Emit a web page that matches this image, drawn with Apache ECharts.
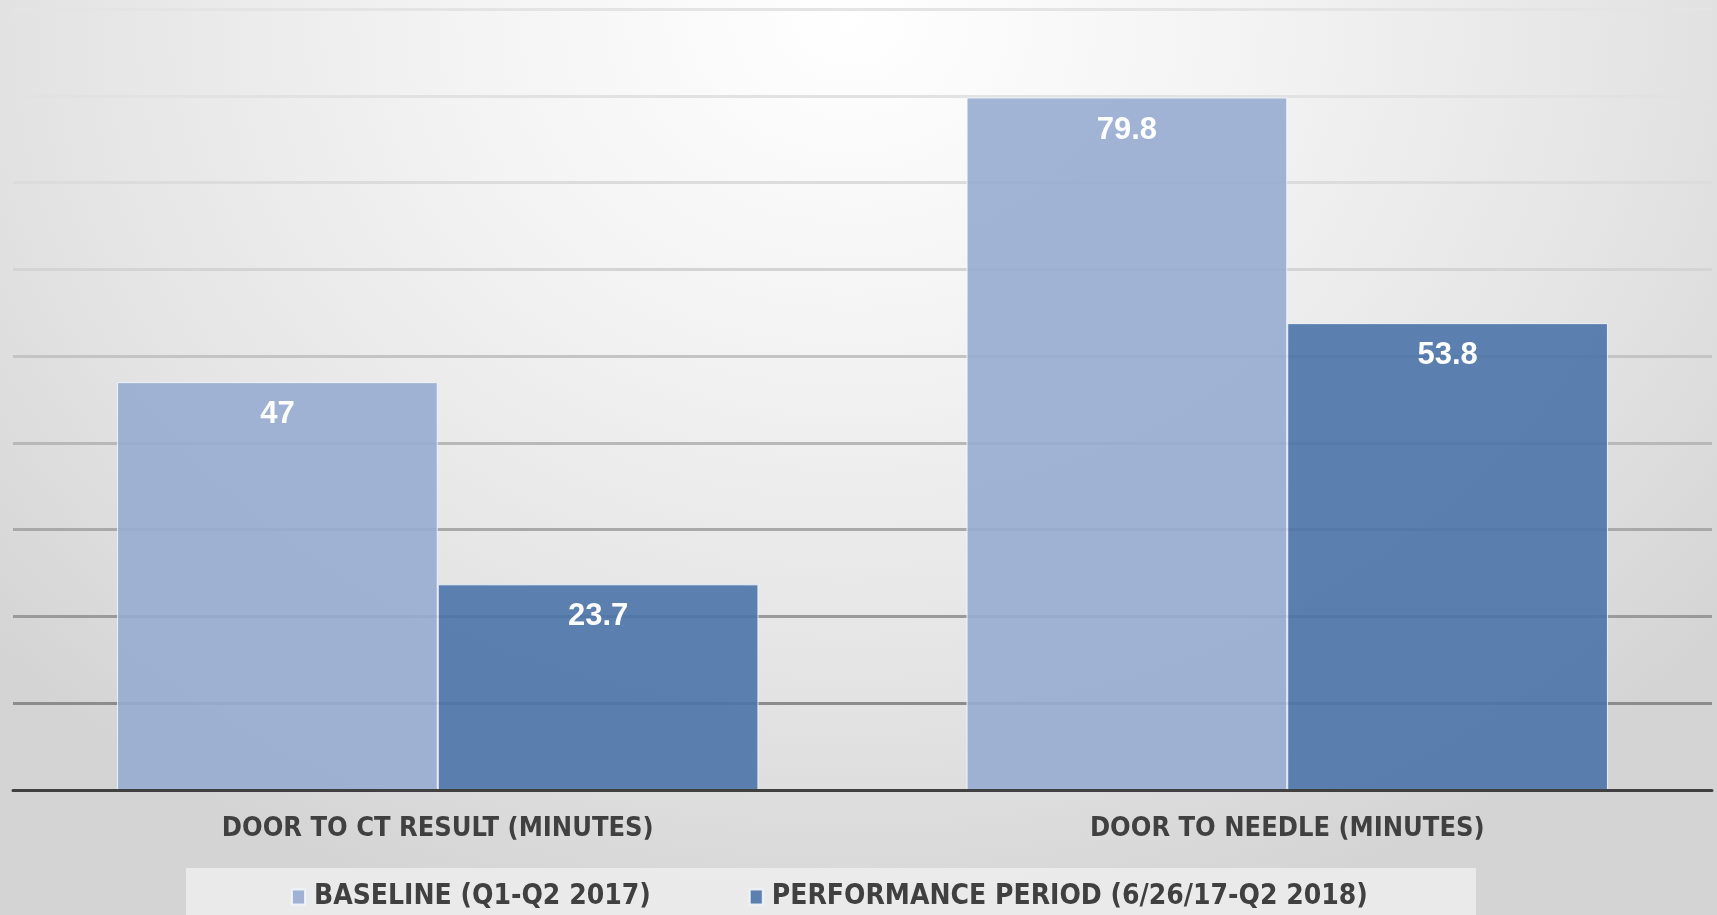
<!DOCTYPE html>
<html>
<head>
<meta charset="utf-8">
<script src="https://cdn.jsdelivr.net/npm/echarts@6/dist/echarts.min.js"></script>
<style>
html,body{margin:0;padding:0;}
#chart{width:1717px;height:915px;background:radial-gradient(ellipse 1150px 950px at 850px 20px,#ffffff 0%,#f3f3f3 35%,#e4e4e4 70%,#d4d4d4 100%);}
</style>
</head>
<body>
<div id="chart"></div>
<script>
const categories = ['DOOR TO CT RESULT (MINUTES)', 'DOOR TO NEEDLE (MINUTES)'];
const seriesNames = ['BASELINE (Q1-Q2 2017)', 'PERFORMANCE PERIOD (6/26/17-Q2 2018)'];
const baseline = [47, 79.8];
const performance = [23.7, 53.8];
const axisMin = 0, axisMax = 90, axisInterval = 10;

const chart = echarts.init(document.getElementById('chart'), null, {renderer: 'canvas'});
const catFont = '"Liberation Sans Narrow","DejaVu Sans Condensed","Liberation Sans",sans-serif';
const labelStyle = {show: true, position: 'insideTop', distance: 17, color: '#ffffff', fontSize: 31, fontWeight: 'bold', fontFamily: '"Liberation Sans",Arial,sans-serif'};
const option = {
  backgroundColor: 'transparent',
  animation: false,
  graphic: [{
    type: 'rect', left: 186, top: 868, z: -1,
    shape: {width: 1290, height: 60},
    style: {fill: 'rgba(236,236,236,0.9)'}
  }],
  legend: {
    left: 286, top: 878,
    itemWidth: 13, itemHeight: 15, itemGap: 98,
    icon: 'rect',
    textStyle: {fontFamily: catFont, fontSize: 28, fontWeight: 'bold', color: '#404040', padding: [0,0,0,4]},
    data: seriesNames
  },
  grid: {left: 13, right: 5, top: 9, bottom: 125, containLabel: false},
  xAxis: {
    type: 'category', data: categories, z: 10,
    axisLine: {lineStyle: {color: '#404040', width: 3}},
    axisTick: {show: false},
    axisLabel: {fontFamily: catFont, fontSize: 27, fontWeight: 'bold', color: '#404040', margin: 25}
  },
  yAxis: {
    type: 'value', min: axisMin, max: axisMax, interval: axisInterval,
    axisLabel: {show: false}, axisLine: {show: false}, axisTick: {show: false},
    splitLine: {lineStyle: {width: 3, color: ['#404040','#8c8c8c','#9a9a9a','#a9a9a9','#b8b8b8','#c4c4c4','#d4d4d4','#dcdcdc','#e2e2e2','#e4e4e4']}}
  },
  series: [
    {
      name: seriesNames[0], type: 'bar', data: baseline,
      barGap: '0%', barCategoryGap: '24.5%',
      itemStyle: {color: 'rgba(151,172,209,0.9)', borderColor: 'rgba(245,248,252,0.85)', borderWidth: 1},
      label: labelStyle
    },
    {
      name: seriesNames[1], type: 'bar', data: performance,
      barGap: '0%', barCategoryGap: '24.5%',
      itemStyle: {color: 'rgba(75,116,168,0.9)', borderColor: 'rgba(245,248,252,0.85)', borderWidth: 1},
      label: labelStyle
    }
  ]
};
chart.setOption(option);
</script>
</body>
</html>
